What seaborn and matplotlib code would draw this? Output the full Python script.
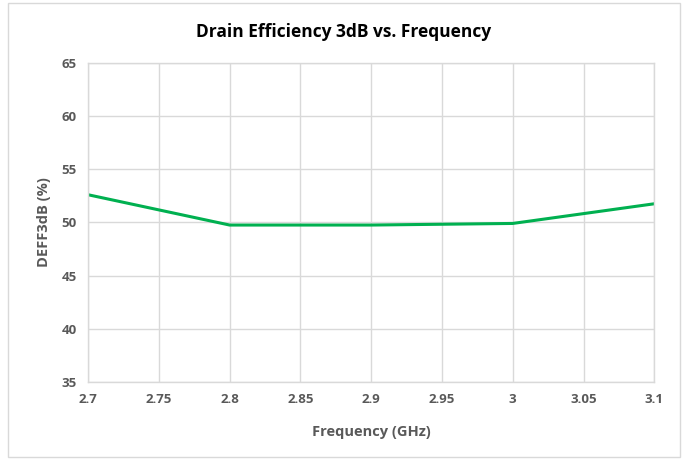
import pandas as pd
import matplotlib
matplotlib.use('Agg')
import matplotlib.pyplot as plt
import seaborn as sns

# Data
freq_ghz = [2.7, 2.8, 2.9, 3.0, 3.1]
deff3db = [52.6, 49.75, 49.75, 49.9, 51.75]

x_ticks = [2.7, 2.75, 2.8, 2.85, 2.9, 2.95, 3.0, 3.05, 3.1]
x_labels = ['2.7', '2.75', '2.8', '2.85', '2.9', '2.95', '3', '3.05', '3.1']
y_ticks = [35, 40, 45, 50, 55, 60, 65]

df = pd.DataFrame({'Frequency': freq_ghz, 'DEFF3dB': deff3db})

sns.set_theme(style="whitegrid")
plt.rcParams['font.family'] = ['Open Sans', 'DejaVu Sans']

fig = plt.figure(figsize=(6.88, 4.59), dpi=100)
ax = fig.add_axes([0.128, 0.168, 0.823, 0.695])

sns.lineplot(data=df, x='Frequency', y='DEFF3dB', color='#00B050', linewidth=2.2, ax=ax)

ax.set_xlim(2.7, 3.1)
ax.set_ylim(35, 65)
ax.set_xticks(x_ticks)
ax.set_xticklabels(x_labels)
ax.set_yticks(y_ticks)

grey = '#595959'
ax.tick_params(axis='both', colors=grey, labelsize=9.5, length=0, pad=8)
for lbl in ax.get_xticklabels() + ax.get_yticklabels():
    lbl.set_fontweight('bold')
ax.grid(True, color='#D9D9D9', linewidth=1)
for s in ax.spines.values():
    s.set_visible(True)
    s.set_color('#D9D9D9')
    s.set_linewidth(1)

ax.set_xlabel('Frequency (GHz)', color=grey, fontsize=10.5, fontweight='bold', labelpad=14)
ax.set_ylabel('DEFF3dB (%)', color=grey, fontsize=10.5, fontweight='bold', labelpad=8)
fig.text(0.5, 0.93, 'Drain Efficiency 3dB vs. Frequency', ha='center', va='center',
         fontsize=12.5, fontweight='bold', color='black')

# light chart-area border like the original
fig.patches.append(plt.Rectangle((0.012, 0.004), 0.976, 0.99, transform=fig.transFigure,
                                 fill=False, edgecolor='#D9D9D9', linewidth=1))

fig.savefig('out.png', dpi=100)
